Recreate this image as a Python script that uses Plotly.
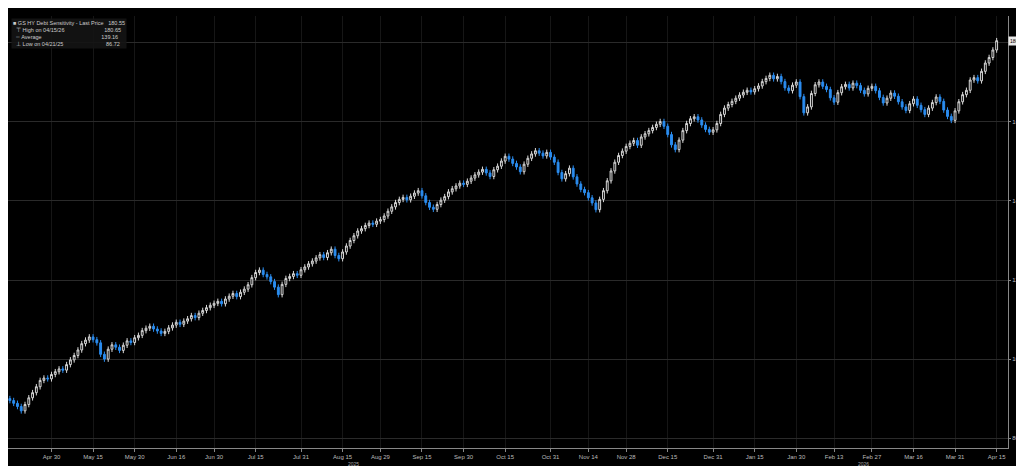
import pandas as pd
import plotly.graph_objects as go

closes = [89.5, 88.8, 88.0, 86.9, 88.5, 90.2, 91.5, 93.0, 94.6, 95.2, 95.0, 96.1,
 96.8, 97.5, 97.2, 98.6, 99.8, 100.9, 102.3, 103.9, 104.8, 105.6, 104.9, 104.1, 101.2, 100.0, 102.5, 103.6, 103.0, 102.2, 103.5, 104.6, 104.2, 105.4,
 106.0, 107.2, 107.8, 108.3, 107.6, 107.1, 106.5, 107.0, 107.9, 108.6, 109.3, 108.8, 109.6, 110.2, 111.0, 110.5, 111.6, 112.3, 113.0, 113.6, 114.1,
 114.6, 114.0, 115.2, 115.9, 116.6, 115.8, 116.9, 117.7, 118.8, 120.6, 121.9, 122.5, 121.4, 120.8, 119.6, 118.2, 116.3, 118.9, 120.4, 120.9, 121.6, 121.2, 122.6,
 123.3, 124.1, 124.8, 125.6, 126.4, 125.7, 126.9, 127.8, 126.2, 125.4, 127.1, 128.6, 130.0, 131.2, 132.4, 133.0, 133.8, 134.4, 134.1, 134.9, 135.3,
 136.2, 137.4, 138.5, 139.6, 140.4, 140.9, 140.3, 141.2, 142.0, 142.6, 141.3, 139.6, 138.4, 137.9, 139.1, 140.2, 141.1, 142.3, 143.1, 143.8, 144.5, 144.2,
 145.0, 145.8, 146.6, 147.3, 148.0, 147.1, 146.2, 147.9, 148.8, 150.1, 151.3, 150.6, 149.5, 148.6, 147.4, 149.3, 150.8, 151.9, 152.7, 152.1, 151.4, 152.3, 151.1,
 149.8, 147.2, 145.6, 146.9, 148.3, 146.1, 144.3, 142.9, 142.1, 140.8, 139.5, 137.8, 140.4, 142.6, 145.1, 147.6, 149.8, 151.5, 152.6, 153.8,
 154.6, 155.3, 154.1, 156.2, 157.0, 157.8, 158.6, 159.4, 160.1, 158.9, 156.8, 154.2, 153.0, 155.4, 157.8, 159.6, 160.8, 161.3, 160.5, 159.2, 158.1, 157.4, 158.0,
 159.6, 161.9, 163.5, 164.4, 165.2, 166.0, 166.8, 167.5, 168.0, 167.6, 168.4, 169.1, 170.2, 171.0, 171.8, 170.9, 171.5, 170.2, 168.6, 167.9, 169.3, 170.1,
 166.4, 162.3, 163.8, 167.2, 169.4, 170.1, 169.0, 168.2, 166.1, 165.0, 167.4, 168.9, 169.5, 168.6, 169.8, 169.2, 168.0, 167.1, 168.5, 169.0,
 167.9, 166.2, 164.8, 166.0, 167.3, 166.5, 165.1, 163.8, 162.9, 164.6, 165.8, 164.2, 163.1, 161.9, 163.5, 164.9, 166.3, 165.2, 163.0, 161.4, 160.4, 162.8,
 165.1, 166.9, 168.0, 170.6, 171.2, 170.4, 172.8, 174.9, 176.3, 178.2, 180.55]
first_open = 90.0
wick = 0.7

tick_dates = ["2025-04-30", "2025-05-15", "2025-05-30", "2025-06-16", "2025-06-30", "2025-07-15", "2025-07-31",
              "2025-08-15", "2025-08-29", "2025-09-15", "2025-09-30", "2025-10-15", "2025-10-31", "2025-11-14",
              "2025-11-28", "2025-12-15", "2025-12-31", "2026-01-15", "2026-01-30", "2026-02-13", "2026-02-27",
              "2026-03-16", "2026-03-31", "2026-04-15"]
tick_text = ["Apr 30", "May 15", "May 30", "Jun 16", "Jun 30", "Jul 15", "Jul 31", "Aug 15", "Aug 29", "Sep 15",
             "Sep 30", "Oct 15", "Oct 31", "Nov 14", "Nov 28", "Dec 15", "Dec 31", "Jan 15", "Jan 30", "Feb 13",
             "Feb 27", "Mar 16", "Mar 31", "Apr 15"]
y_ticks = [80, 100, 120, 140, 160, 180]

dates = pd.bdate_range(end="2026-04-15", periods=len(closes))
opens = [first_open] + closes[:-1]
highs = [max(o, c) + wick for o, c in zip(opens, closes)]
lows = [min(o, c) - wick for o, c in zip(opens, closes)]

fig = go.Figure(go.Candlestick(
    x=dates, open=opens, high=highs, low=lows, close=closes,
    increasing=dict(line=dict(color="#d8d8d8", width=1), fillcolor="#000000"),
    decreasing=dict(line=dict(color="#2b8df0", width=1), fillcolor="#2b8df0"),
    whiskerwidth=0, showlegend=False))

fig.update_layout(
    width=1024, height=466, paper_bgcolor="#000000", plot_bgcolor="#000000",
    margin=dict(l=0, r=24, t=8, b=26, autoexpand=False),
    font=dict(family="Liberation Sans", color="#bbbbbb", size=6),
    xaxis=dict(rangeslider=dict(visible=False), tickvals=tick_dates, ticktext=tick_text,
               rangebreaks=[dict(bounds=["sat", "mon"])],
               range=["2025-04-14 12:00", "2026-04-20"],
               showgrid=True, gridcolor="#161616", gridwidth=1,
               ticks="outside", ticklen=3, tickcolor="#888", showline=True, linecolor="#888",
               tickfont=dict(size=6, color="#bbbbbb")),
    yaxis=dict(side="right", range=[77.5, 186.8], tickvals=y_ticks, showgrid=True, gridcolor="#2a2a2a",
               ticks="outside", ticklen=2, tickcolor="#888", showline=True, linecolor="#888",
               tickfont=dict(size=6, color="#bbbbbb"), zeroline=False),
)

for a in [dict(x=0.345, text="2025"), dict(x=0.855, text="2026")]:
    fig.add_annotation(xref="paper", yref="paper", y=-0.026, xanchor="center", yanchor="top", showarrow=False,
                       font=dict(size=5, color="#aaaaaa"), **a)
foot = dict(xref="paper", yref="paper", y=-0.038, yanchor="top", showarrow=False,
            font=dict(size=5, color="#aaaaaa"))
fig.add_annotation(x=0, xanchor="left",
                   text="GSXUDEBT Index (GS HY Debt Sensitivity) Daily 15APR2025-15APR2026", **foot)
fig.add_annotation(x=0.56, xanchor="center", text="Copyright© 2026 Bloomberg Finance L.P.", **foot)
fig.add_annotation(x=1.02, xanchor="right", text="15-Apr-2026 13:12:11", **foot)
fig.add_annotation(xref="paper", yref="y", x=1.0, y=closes[-1], xanchor="left", showarrow=False,
                   text=f"{closes[-1]:.2f}", bgcolor="#e8e8e8", font=dict(size=5, color="#000000"))
legend_text = ("■ GS HY Debt Sensitivity - Last Price   180.55<br>"
               "  ⊤ High on 04/15/26                          180.65<br>"
               "  ┄ Average                                       139.16<br>"
               "  ⊥ Low on 04/21/25                            86.72")
fig.add_annotation(xref="paper", yref="paper", x=0.003, y=0.995, xanchor="left", yanchor="top", showarrow=False,
                   align="left", text=legend_text, bgcolor="rgba(20,20,20,0.9)",
                   font=dict(size=5.5, color="#cccccc"))

fig.write_html("out.html")
